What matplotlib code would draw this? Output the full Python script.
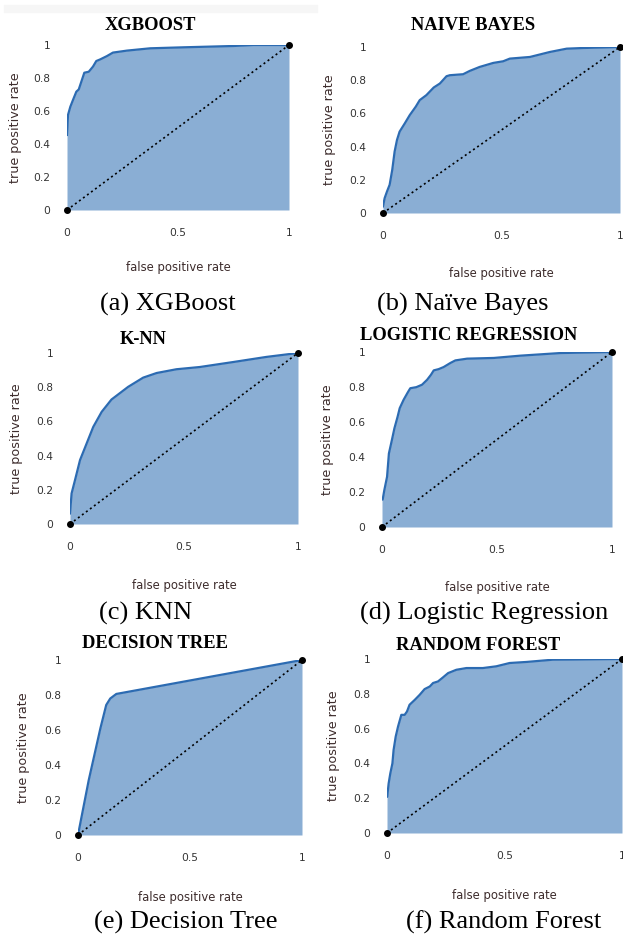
import numpy as np
import matplotlib.pyplot as plt
from matplotlib.patches import Rectangle

# ROC curves (fpr, tpr)
xgb_fpr = [0, 0.0045, 0.015, 0.027, 0.042, 0.053, 0.078, 0.098, 0.117, 0.132, 0.15, 0.18, 0.207, 0.27, 0.375, 0.525, 0.75, 0.84, 1.0]
xgb_tpr = [0.455, 0.576, 0.626, 0.667, 0.717, 0.731, 0.832, 0.838, 0.869, 0.903, 0.913, 0.933, 0.954, 0.966, 0.98, 0.986, 0.994, 1.0, 1.0]

nb_fpr = [0, 0.007, 0.017, 0.028, 0.039, 0.049, 0.059, 0.07, 0.092, 0.113, 0.138, 0.155, 0.183, 0.214, 0.24, 0.268, 0.282, 0.338, 0.366, 0.408, 0.465, 0.507, 0.535, 0.62, 0.704, 0.775, 0.845, 1.0]
nb_tpr = [0.04, 0.09, 0.13, 0.17, 0.26, 0.37, 0.44, 0.49, 0.54, 0.59, 0.64, 0.68, 0.71, 0.756, 0.78, 0.824, 0.83, 0.836, 0.856, 0.88, 0.904, 0.914, 0.93, 0.94, 0.97, 0.99, 0.994, 1.0]

knn_fpr = [0, 0.007, 0.022, 0.044, 0.073, 0.102, 0.139, 0.182, 0.255, 0.321, 0.38, 0.467, 0.569, 0.715, 0.861, 1.0]
knn_tpr = [0.062, 0.179, 0.257, 0.374, 0.471, 0.568, 0.656, 0.728, 0.802, 0.856, 0.883, 0.905, 0.918, 0.947, 0.977, 1.0]

lr_fpr = [0, 0.003, 0.01, 0.022, 0.03, 0.043, 0.054, 0.068, 0.077, 0.094, 0.112, 0.123, 0.149, 0.174, 0.196, 0.213, 0.225, 0.246, 0.268, 0.297, 0.319, 0.37, 0.486, 0.601, 0.775, 1.0]
lr_tpr = [0.157, 0.157, 0.21, 0.287, 0.42, 0.497, 0.564, 0.631, 0.679, 0.727, 0.769, 0.793, 0.799, 0.813, 0.841, 0.87, 0.895, 0.902, 0.914, 0.937, 0.952, 0.962, 0.966, 0.979, 0.994, 1.0]

dt_fpr = [0, 0.048, 0.1, 0.126, 0.144, 0.171, 1.0]
dt_tpr = [0, 0.314, 0.61, 0.743, 0.78, 0.806, 1.0]

rf_fpr = [0, 0.001, 0.007, 0.014, 0.023, 0.028, 0.037, 0.047, 0.061, 0.075, 0.085, 0.096, 0.118, 0.139, 0.16, 0.182, 0.196, 0.217, 0.238, 0.26, 0.295, 0.338, 0.408, 0.465, 0.522, 0.593, 0.706, 1.0]
rf_tpr = [0.208, 0.208, 0.285, 0.342, 0.4, 0.477, 0.554, 0.612, 0.679, 0.679, 0.698, 0.737, 0.765, 0.794, 0.827, 0.842, 0.862, 0.871, 0.894, 0.919, 0.938, 0.948, 0.948, 0.958, 0.977, 0.983, 0.996, 1.0]

titles = ["XGBOOST", "NAIVE BAYES", "K-NN", "LOGISTIC REGRESSION", "DECISION TREE", "RANDOM FOREST"]
captions = ["(a) XGBoost", "(b) Naïve Bayes", "(c) KNN", "(d) Logistic Regression", "(e) Decision Tree", "(f) Random Forest"]
curves = [(xgb_fpr, xgb_tpr), (nb_fpr, nb_tpr), (knn_fpr, knn_tpr),
          (lr_fpr, lr_tpr), (dt_fpr, dt_tpr), (rf_fpr, rf_tpr)]

# layout in pixels: plot box (x0, x1, y_top, y_bottom), title (x, y),
# ylabel x, xlabel y, caption (x, y)
W, H = 623, 936
boxes = [(67, 289, 45, 210), (383, 620, 47, 213),
         (70, 298, 353, 524), (382, 612, 352, 527),
         (78, 302, 660, 835), (387, 622, 659, 833)]
title_pos = [(150, 25), (473, 25), (143, 339), (469, 335), (155, 644), (478, 645)]
ylab_x = [16, 330, 17, 328, 24, 333]
xlab_y = [268, 273, 586, 588, 897, 895]
cap_x = [168, 463, 146, 484, 186, 504]
cap_y = [304, 304, 613, 613, 922, 922]

FILL = "#8aaed4"
LINE = "#2c6bb2"
LABEL = "#3d2c2c"
TICK = "#333333"

fig = plt.figure(figsize=(W / 100, H / 100), dpi=100)
fig.patches.append(Rectangle((4 / W, 1 - 12 / H), 313 / W, 7 / H,
                             transform=fig.transFigure, color="#f6f6f6", zorder=0))

for i in range(6):
    x0, x1, yt, yb = boxes[i]
    ax = fig.add_axes([x0 / W, 1 - yb / H, (x1 - x0) / W, (yb - yt) / H])
    fpr, tpr = curves[i]
    ax.fill_between(fpr, 0, tpr, color=FILL, lw=0)
    ax.plot(fpr, tpr, color=LINE, lw=1.6)
    ax.plot([0, 1], [0, 1], color="black", ls=(0, (1.2, 1.8)), lw=1.2)
    ax.plot([0, 1], [0, 1], "o", color="black", ms=4, clip_on=False)
    ax.set_xlim(0, 1)
    ax.set_ylim(0, 1)
    ax.set_xticks([0, 0.5, 1])
    ax.set_xticklabels(["0", "0.5", "1"])
    ax.set_yticks([0, 0.2, 0.4, 0.6, 0.8, 1])
    ax.set_yticklabels(["0", "0.2", "0.4", "0.6", "0.8", "1"])
    ax.tick_params(length=0, labelsize=7.7, colors=TICK)
    ax.tick_params(axis="x", pad=13)
    ax.tick_params(axis="y", pad=12)
    for s in ax.spines.values():
        s.set_visible(False)
    ax.patch.set_alpha(0)

    tx, ty = title_pos[i]
    fig.text(tx / W, 1 - ty / H, titles[i], ha="center", va="center",
             family="Liberation Serif", weight="bold", fontsize=13.3)
    fig.text(ylab_x[i] / W, 1 - ((yt + yb) / 2) / H, "true positive rate",
             rotation=90, ha="center", va="center", fontsize=9.2, color=LABEL)
    fig.text(((x0 + x1) / 2) / W, 1 - xlab_y[i] / H, "false positive rate",
             ha="center", va="center", fontsize=8.4, color=LABEL)
    fig.text(cap_x[i] / W, 1 - cap_y[i] / H, captions[i], ha="center", va="center",
             family="Liberation Serif", fontsize=19)

fig.savefig("out.png", dpi=100)
